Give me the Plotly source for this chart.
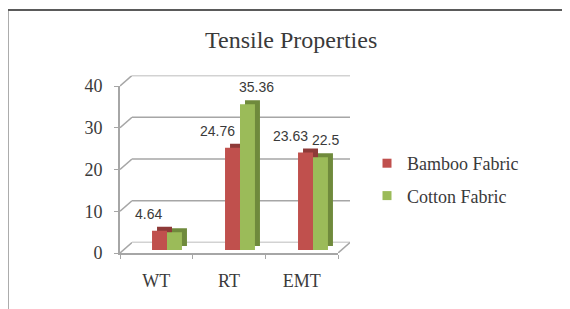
import plotly.graph_objects as go

# ---------------- data ----------------
categories = ["WT", "RT", "EMT"]
series_names = ["Bamboo Fabric", "Cotton Fabric"]
bamboo = [4.64, 24.76, 23.63]
cotton = [4.3, 35.36, 22.5]
bamboo_labeled = [True, True, True]
cotton_labeled = [False, True, True]
y_ticks = [0, 10, 20, 30, 40]
title_text = "Tensile Properties"

# ---------------- styling / geometry ----------------
W, H = 570, 309
OFF = 8  # page body margin in the browser
RED, RED_SIDE = "#C0504D", "#8E3A38"
GREEN, GREEN_SIDE = "#9BBB59", "#6F8A3C"
GRID = "#A6A6A6"
TXT = "#3a3a3a"
SERIF = "Liberation Serif, Times New Roman, serif"
SANS = "Liberation Sans, Arial, sans-serif"

def px(x):
    return (x - OFF) / W

def py(y):
    return 1 - (y - OFF) / H

def xd(a, b):
    return [px(a), px(b)]

def yd(top, bottom):
    return [py(bottom), py(top)]

FRONT_X = (120, 338)
FRONT_Y = (86, 253)
BACK_DX, BACK_DY = 12, 10.5
BAR_X = (130.5, 349.5)
BAR_Y = (85, 250)
DEPTH_DX, DEPTH_DY = 5, 4
Y_MAX = 40
SIDE_UNITS = BACK_DY * Y_MAX / (FRONT_Y[1] - FRONT_Y[0])  # wall depth in y units

fig = go.Figure()

# back wall gridlines
gx, gy = [], []
for t in y_ticks:
    gx += [0, 1, None]
    gy += [t, t, None]
fig.add_trace(go.Scatter(x=gx, y=gy, mode="lines", xaxis="x", yaxis="y",
                         line=dict(color=GRID, width=1.6), showlegend=False,
                         hoverinfo="skip"))
# legend entries (small square swatches) on the front axes
for i, (name, col) in enumerate(zip(series_names, [RED, GREEN])):
    fig.add_trace(go.Scatter(x=[None], y=[None], mode="markers", name=name,
                             marker=dict(symbol="square", size=9, color=col),
                             legendgroup=f"g{i}", xaxis="x2", yaxis="y2"))

values = [bamboo, cotton]
fronts = [RED, GREEN]
sides = [RED_SIDE, GREEN_SIDE]

# depth (extrusion) bars, drawn first
for name, vals, col in zip(series_names, values, sides):
    fig.add_trace(go.Bar(x=categories, y=vals, name=name, marker_color=col,
                         marker_line_width=0, showlegend=False,
                         xaxis="x3", yaxis="y3", hoverinfo="skip"))
# front bars
for name, vals, col in zip(series_names, values, fronts):
    fig.add_trace(go.Bar(x=categories, y=vals, name=name, marker_color=col,
                         marker_line_width=0, showlegend=False,
                         xaxis="x4", yaxis="y4"))
# left wall edges (front axis ticks -> back wall)
sx, sy = [], []
for t in y_ticks:
    sx += [0, 1, None]
    sy += [t, t + SIDE_UNITS, None]
fig.add_trace(go.Scatter(x=sx, y=sy, mode="lines", xaxis="x5", yaxis="y5",
                         line=dict(color=GRID, width=1.6), showlegend=False,
                         hoverinfo="skip", cliponaxis=False))
# floor right edge
fig.add_trace(go.Scatter(x=[0, 1], y=[0, SIDE_UNITS], mode="lines",
                         xaxis="x6", yaxis="y6",
                         line=dict(color=GRID, width=1.6), showlegend=False,
                         hoverinfo="skip", cliponaxis=False))

# data labels
annotations = []
for j, cat in enumerate(categories):
    if bamboo_labeled[j]:
        annotations.append(dict(x=cat, y=bamboo[j], xref="x4", yref="y4",
                                text=f"{bamboo[j]:g}", showarrow=False,
                                xanchor="right", yanchor="bottom",
                                xshift=-4, yshift=8, borderpad=0,
                                font=dict(family=SANS, size=14, color=TXT)))
    if cotton_labeled[j]:
        annotations.append(dict(x=cat, y=cotton[j], xref="x4", yref="y4",
                                text=f"{cotton[j]:g}", showarrow=False,
                                xanchor="left", yanchor="bottom",
                                xshift=-2, yshift=8, borderpad=0,
                                font=dict(family=SANS, size=14, color=TXT)))
annotations.append(dict(text=title_text, x=px(291), y=py(40), xref="paper",
                        yref="paper", showarrow=False, xanchor="center",
                        yanchor="middle",
                        font=dict(family=SERIF, size=24, color=TXT)))

# frame border (top and left)
shapes = [
    dict(type="line", xref="paper", yref="paper",
         x0=px(7.5), x1=1, y0=py(10), y1=py(10),
         line=dict(color="#5a5a5a", width=2)),
    dict(type="line", xref="paper", yref="paper",
         x0=px(7.5), x1=px(7.5), y0=0, y1=py(10),
         line=dict(color="#5a5a5a", width=2)),
]

hidden = dict(visible=False, fixedrange=True)
cat_ax = dict(type="category", categoryarray=categories, categoryorder="array",
              range=[-0.5, len(categories) - 0.5])

fig.update_layout(
    width=W, height=H,
    margin=dict(l=0, r=0, t=0, b=0, pad=0, autoexpand=False),
    paper_bgcolor="white", plot_bgcolor="rgba(0,0,0,0)",
    barmode="group", bargap=0.59, bargroupgap=0,
    showlegend=True,
    legend=dict(x=px(367), y=py(145), xanchor="left", yanchor="top",
                font=dict(family=SERIF, size=18, color=TXT),
                traceorder="grouped", tracegroupgap=6,
                bgcolor="rgba(0,0,0,0)"),
    annotations=annotations,
    shapes=shapes,
    # back wall
    xaxis=dict(domain=xd(FRONT_X[0] + BACK_DX, FRONT_X[1] + BACK_DX), range=[0, 1],
               anchor="y", **hidden),
    yaxis=dict(domain=yd(FRONT_Y[0] - BACK_DY, FRONT_Y[1] - BACK_DY),
               range=[0, Y_MAX], anchor="x", **hidden),
    # front axes (labels, left edge, floor edge)
    xaxis2=dict(domain=xd(*FRONT_X), anchor="y2", **cat_ax,
                showgrid=False, zeroline=False, showline=True, linecolor=GRID,
                linewidth=1.6, ticks="outside", tickson="boundaries", ticklen=4,
                tickcolor=GRID, ticklabelstandoff=11,
                tickfont=dict(family=SERIF, size=18, color=TXT), fixedrange=True),
    yaxis2=dict(domain=yd(*FRONT_Y), range=[0, Y_MAX], tickvals=y_ticks,
                anchor="x2", showgrid=False, zeroline=False, showline=True,
                linecolor=GRID, linewidth=1.6, ticks="outside", ticklen=4,
                tickcolor=GRID, ticklabelstandoff=8,
                tickfont=dict(family=SERIF, size=18, color=TXT), fixedrange=True),
    # bar depth copy
    xaxis3=dict(domain=xd(BAR_X[0] + DEPTH_DX, BAR_X[1] + DEPTH_DX), anchor="y3",
                **cat_ax, visible=False, fixedrange=True),
    yaxis3=dict(domain=yd(BAR_Y[0] - DEPTH_DY, BAR_Y[1] - DEPTH_DY),
                range=[0, Y_MAX], anchor="x3", **hidden),
    # bar front faces
    xaxis4=dict(domain=xd(*BAR_X), anchor="y4", **cat_ax, visible=False,
                fixedrange=True),
    yaxis4=dict(domain=yd(*BAR_Y), range=[0, Y_MAX], anchor="x4", **hidden),
    # left wall edges
    xaxis5=dict(domain=xd(FRONT_X[0], FRONT_X[0] + BACK_DX), range=[0, 1],
                anchor="y5", **hidden),
    yaxis5=dict(domain=yd(FRONT_Y[0] - BACK_DY, FRONT_Y[1]),
                range=[0, Y_MAX + SIDE_UNITS], anchor="x5", **hidden),
    # floor right edge
    xaxis6=dict(domain=xd(FRONT_X[1], FRONT_X[1] + BACK_DX), range=[0, 1],
                anchor="y6", **hidden),
    yaxis6=dict(domain=yd(FRONT_Y[0] - BACK_DY, FRONT_Y[1]),
                range=[0, Y_MAX + SIDE_UNITS], anchor="x6", **hidden),
)

fig.write_html("out.html")
